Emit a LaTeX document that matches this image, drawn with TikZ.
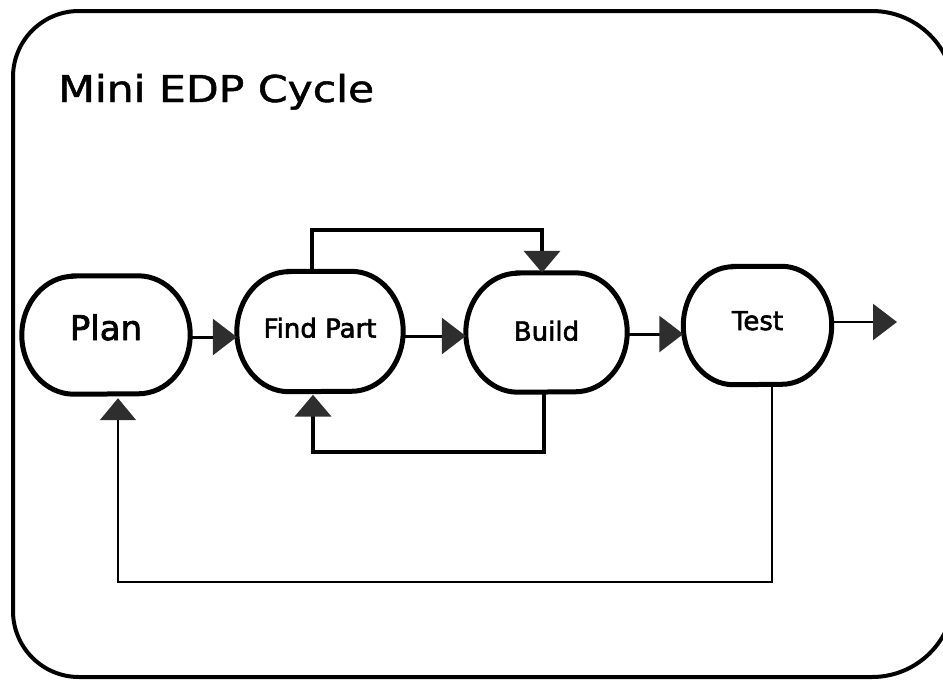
\documentclass[tikz,border=0pt]{standalone}
\usepackage{fontspec}
\setmainfont{DejaVu Sans}
\newfontfamily\stagefont[FakeBold=2.2]{DejaVu Sans}
\newfontfamily\titlefont[FakeBold=1.2]{DejaVu Sans}
\usetikzlibrary{arrows.meta,calc}

\definecolor{tipgray}{HTML}{2E2E2E}

\tikzset{
  stage/.style={inner sep=0pt, text depth=0pt,
    font=\stagefont\fontsize{26}{30}\selectfont},
  stageline/.style={draw=black, line width=5pt},
  flow/.style={draw=black, line width=3pt,
    -{Triangle[length=24pt,width=36pt,fill=tipgray,color=tipgray]}},
  loopline/.style={draw=black, line width=4.5pt,
    -{Triangle[length=22pt,width=36pt,fill=tipgray,color=tipgray]}},
  backline/.style={draw=black, line width=2pt,
    -{Triangle[length=22pt,width=36pt,fill=tipgray,color=tipgray]}},
}

% outline of a stage: flat top and bottom, half-ellipse ends
% #1 node name, #2 horizontal radius of the ends, #3 half the height
\newcommand\stageoutline[3]{%
  \draw[stageline] ($(#1.north west)+(#2,0)$) -- ($(#1.north east)+(-#2,0)$)
    arc[start angle=90, end angle=-90, x radius=#2pt, y radius=#3pt]
    -- ($(#1.south west)+(#2,0)$)
    arc[start angle=270, end angle=90, x radius=#2pt, y radius=#3pt]
    -- cycle;}

\begin{document}
\begin{tikzpicture}[x=1pt, y=-1pt]
  \useasboundingbox (0,0) rectangle (943,681);
  \clip (0,0) rectangle (943,681);

  % outer frame, its right side running past the page edge
  \draw[line width=4pt] (79,11) -- (872,11)
    arc[start angle=90, end angle=0, radius=82pt] -- (954,595)
    arc[start angle=0, end angle=-90, radius=82pt] -- (79,677)
    arc[start angle=270, end angle=180, radius=66pt] -- (13,77)
    arc[start angle=180, end angle=90, radius=66pt] -- cycle;

  % title
  \node[anchor=base west, inner sep=0pt, font=\titlefont\fontsize{37}{44}\selectfont]
    (title) at (58,102) {\scalebox{1.15}[1]{Mini EDP Cycle}};

  % stages of the cycle
  \node[stage, minimum width=168pt, minimum height=118pt, text height=10pt,
        font=\stagefont\fontsize{34}{40}\selectfont] (plan) at (106,335) {Plan};
  \node[stage, minimum width=166pt, minimum height=120pt, text height=12pt]
        (find) at (320,331.5) {Find Part};
  \node[stage, minimum width=161pt, minimum height=119pt, text height=16pt]
        (build) at (546.5,332.5) {Build};
  \node[stage, minimum width=148pt, minimum height=118pt, text height=9pt]
        (test) at (757.5,325.5) {Test};

  \stageoutline{plan}{52}{59}
  \stageoutline{find}{52}{60}
  \stageoutline{build}{52}{59.5}
  \stageoutline{test}{50}{59}

  \coordinate (out) at (897,322);

  % forward flow
  \draw[flow] (plan.east |- 0,337) -- (find.west |- 0,337);
  \draw[flow] (find.east |- 0,336) -- (build.west |- 0,336);
  \draw[flow] (build.east |- 0,334) -- (test.west |- 0,334);
  \draw[flow, line width=2.5pt] (test.east |- out) -- (out);

  % loops between finding parts and building
  \draw[loopline, line width=4pt] (find.north -| 312,0) -- (312,230) -- (542,230)
        -- (build.north -| 542,0);
  \draw[loopline, shorten >=3pt] (build.south -| 544,0) -- (544,452) -- (313,452)
        -- (find.south -| 313,0);

  % feedback from testing to planning
  \draw[backline, shorten >=4pt] (test.south -| 772,0) -- (772,582) -- (118,582)
        -- (plan.south -| 118,0);
\end{tikzpicture}
\end{document}
